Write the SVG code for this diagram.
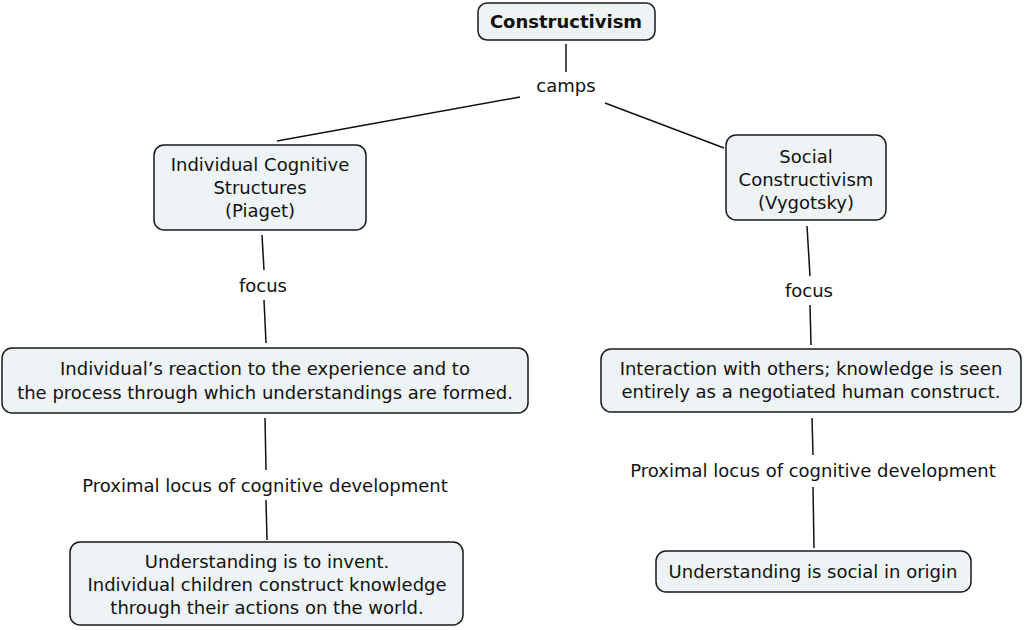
<svg xmlns="http://www.w3.org/2000/svg" width="1024" height="630" viewBox="0 0 1024 630">
<style>
.box{fill:#eef3f5;stroke:#1a1a1a;stroke-width:1.5}
text{font-family:"DejaVu Sans","Verdana",sans-serif;font-size:18px;fill:#111;text-anchor:middle}
.b{font-weight:bold}
.c line{stroke:#111;stroke-width:1.5}
</style>
<rect width="1024" height="630" fill="#fff"/>
<g class="c" id="connectors">
<line x1="566" y1="44" x2="566" y2="72"/>
<line x1="520" y1="97" x2="277" y2="141"/>
<line x1="605" y1="103" x2="724" y2="148"/>
<line x1="262" y1="235" x2="264" y2="270"/>
<line x1="264" y1="300" x2="266" y2="343"/>
<line x1="265" y1="418" x2="266" y2="470"/>
<line x1="266" y1="500" x2="267" y2="540"/>
<line x1="807" y1="226" x2="810" y2="276"/>
<line x1="810" y1="305" x2="811" y2="345"/>
<line x1="812" y1="418" x2="813" y2="455"/>
<line x1="813" y1="487" x2="814" y2="548"/>
</g>
<g id="labels">
<text x="566" y="92">camps</text>
<text x="263" y="292">focus</text>
<text x="809" y="297">focus</text>
<text x="265" y="492">Proximal locus of cognitive development</text>
<text x="813" y="477">Proximal locus of cognitive development</text>
</g>
<g id="constructivism">
<rect class="box" x="478" y="3" width="177" height="37" rx="9"/>
<text class="b" x="566" y="28">Constructivism</text>
</g>
<g id="individual">
<rect class="box" x="154" y="145" width="212" height="85" rx="10"/>
<text x="260" y="171">Individual Cognitive</text>
<text x="260" y="194">Structures</text>
<text x="260" y="217">(Piaget)</text>
</g>
<g id="social">
<rect class="box" x="726" y="135" width="160" height="85" rx="10"/>
<text x="806" y="163">Social</text>
<text x="806" y="186">Constructivism</text>
<text x="806" y="209">(Vygotsky)</text>
</g>
<g id="reaction">
<rect class="box" x="2" y="348" width="526" height="65" rx="10"/>
<text x="265" y="375">Individual’s reaction to the experience and to</text>
<text x="265" y="399">the process through which understandings are formed.</text>
</g>
<g id="interaction">
<rect class="box" x="601" y="349" width="420" height="63" rx="10"/>
<text x="811" y="375">Interaction with others; knowledge is seen</text>
<text x="811" y="398">entirely as a negotiated human construct.</text>
</g>
<g id="invent">
<rect class="box" x="70" y="542" width="393" height="83" rx="10"/>
<text x="267" y="568">Understanding is to invent.</text>
<text x="267" y="591">Individual children construct knowledge</text>
<text x="267" y="614">through their actions on the world.</text>
</g>
<g id="socialorigin">
<rect class="box" x="656" y="551" width="315" height="41" rx="10"/>
<text x="813" y="578">Understanding is social in origin</text>
</g>
</svg>
